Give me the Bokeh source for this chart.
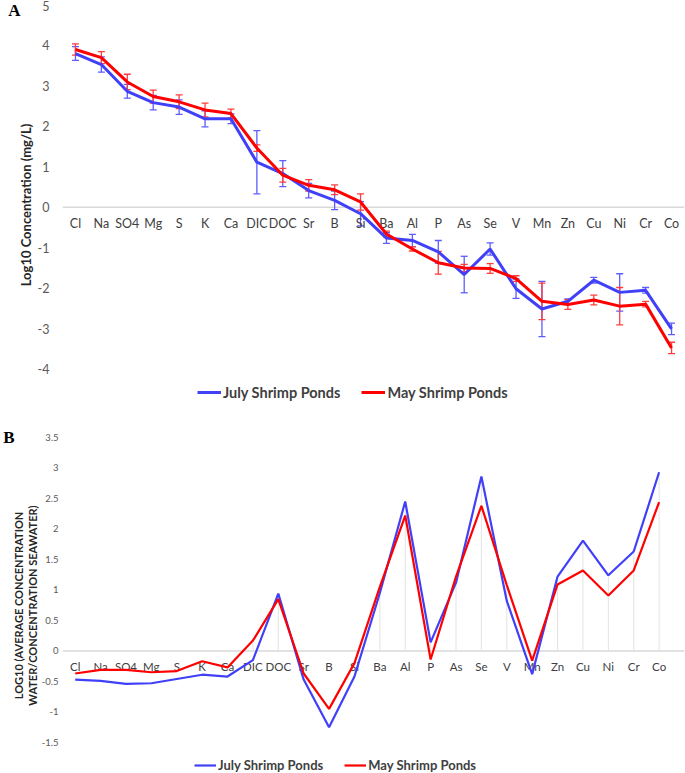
from bokeh.plotting import figure
from bokeh.layouts import column
from bokeh.models import (FactorRange, Range1d, FixedTicker, PrintfTickFormatter, LinearAxis,
                          Whisker, TeeHead, ColumnDataSource, Legend, LegendItem, Span)
from bokeh.core.properties import value
from bokeh.embed import file_html
from bokeh.resources import INLINE

# ---------------- data ----------------
elements = ["Cl", "Na", "SO4", "Mg", "S", "K", "Ca", "DIC", "DOC", "Sr", "B", "Si",
            "Ba", "Al", "P", "As", "Se", "V", "Mn", "Zn", "Cu", "Ni", "Cr", "Co"]

# Panel A: log10 concentration (mg/L)
conc_july = [3.79, 3.52, 2.86, 2.58, 2.47, 2.18, 2.18, 1.11, 0.83, 0.41, 0.17, -0.16,
             -0.76, -0.82, -1.10, -1.66, -1.03, -2.01, -2.51, -2.32, -1.80, -2.10, -2.05, -3.00]
conc_may = [3.89, 3.69, 3.09, 2.73, 2.60, 2.40, 2.31, 1.46, 0.79, 0.54, 0.43, 0.13,
            -0.66, -1.03, -1.37, -1.50, -1.51, -1.76, -2.32, -2.40, -2.29, -2.44, -2.39, -3.47]
err_july = [0.17, 0.19, 0.17, 0.18, 0.18, 0.20, 0.12, 0.78, 0.32, 0.18, 0.23, 0.30,
            0.13, 0.15, 0.28, 0.45, 0.15, 0.24, 0.68, 0.06, 0.07, 0.46, 0.07, 0.14]
err_may = [0.14, 0.15, 0.19, 0.16, 0.17, 0.17, 0.11, 0.08, 0.17, 0.14, 0.12, 0.20,
           0.07, 0.05, 0.28, 0.09, 0.12, 0.07, 0.45, 0.12, 0.12, 0.46, 0.07, 0.14]

# Panel B: log10 (average concentration water / concentration seawater)
ratio_july = [-0.47, -0.49, -0.54, -0.53, -0.46, -0.39, -0.42, -0.15, 0.94, -0.47, -1.25, -0.42,
              0.95, 2.45, 0.14, 1.12, 2.86, 0.82, -0.38, 1.22, 1.81, 1.24, 1.63, 2.93]
ratio_may = [-0.37, -0.31, -0.31, -0.35, -0.33, -0.17, -0.27, 0.17, 0.85, -0.37, -0.95, -0.20,
             1.05, 2.22, -0.14, 1.22, 2.38, 1.08, -0.16, 1.09, 1.32, 0.91, 1.32, 2.44]

top_ticks = [-4, -3, -2, -1, 0, 1, 2, 3, 4, 5]
bottom_ticks = [-1.5, -1, -0.5, 0, 0.5, 1, 1.5, 2, 2.5, 3, 3.5]
series_names = ["July Shrimp Ponds", "May Shrimp Ponds"]
panel_letters = ["A", "B"]

BLUE = "#4040f8"
RED = "#ff0000"
BLUE_ERR = "#5c5cff"
RED_ERR = "#ff3d3d"
FONT = "Lato"
W = 685


def style_common(p, tick_size):
    p.outline_line_color = None
    p.xgrid.grid_line_color = None
    p.ygrid.grid_line_color = None
    p.xaxis.visible = False
    p.yaxis.axis_line_color = None
    p.yaxis.major_tick_line_color = None
    p.yaxis.minor_tick_line_color = None
    p.yaxis.major_tick_out = 0
    p.yaxis.major_tick_in = 0
    p.yaxis.major_label_text_font = FONT
    p.yaxis.major_label_text_font_size = tick_size
    p.yaxis.major_label_text_color = "#595959"
    p.yaxis.formatter = PrintfTickFormatter(format="%g")
    p.yaxis.axis_label_text_font = FONT
    p.yaxis.axis_label_text_font_style = "bold"
    p.yaxis.axis_label_text_color = "#262626"
    p.add_layout(Span(location=0, dimension="width", line_color="#d9d9d9",
                      line_width=1.5, level="underlay"))


def make_legend(r1, r2, gw, size, h, loc, spacing):
    return Legend(items=[LegendItem(label=series_names[0], renderers=[r1]),
                         LegendItem(label=series_names[1], renderers=[r2])],
                  orientation="horizontal", location=loc,
                  label_text_font=FONT, label_text_font_style="bold",
                  label_text_font_size=size, label_text_color="#404040",
                  glyph_width=gw, glyph_height=h, label_height=h, label_standoff=2,
                  spacing=spacing, padding=0, margin=0, border_line_color=None,
                  background_fill_alpha=0)


def letter_axis(p, letter, at, standoff):
    ax = LinearAxis(ticker=FixedTicker(ticks=[at]),
                    formatter=PrintfTickFormatter(format=letter),
                    axis_line_color=None, major_tick_line_color=None,
                    minor_tick_line_color=None, major_tick_out=0, major_tick_in=0,
                    major_label_standoff=standoff, axis_label_standoff=0,
                    major_label_text_font="Liberation Serif",
                    major_label_text_font_style="bold",
                    major_label_text_font_size="17px",
                    major_label_text_color="#000000")
    p.add_layout(ax, "left")


# ---------------- Panel A ----------------
src_a = ColumnDataSource(dict(
    x=elements, july=conc_july, may=conc_may, zero=[0] * len(elements),
    july_lo=[v - e for v, e in zip(conc_july, err_july)],
    july_hi=[v + e for v, e in zip(conc_july, err_july)],
    may_lo=[v - e for v, e in zip(conc_may, err_may)],
    may_hi=[v + e for v, e in zip(conc_may, err_may)],
))

pa = figure(x_range=FactorRange(*elements), y_range=Range1d(-4.89, 5),
            width=W, height=405, output_backend="svg", toolbar_location=None,
            min_border_left=58, min_border_right=1, min_border_top=4, min_border_bottom=0)
style_common(pa, "12.5px")
pa.yaxis.ticker = FixedTicker(ticks=top_ticks)
pa.yaxis.major_label_standoff = 13
pa.yaxis.axis_label = "Log10 Concentration (mg/L)"
pa.yaxis.axis_label_text_font_size = "13px"
pa.yaxis.axis_label_standoff = 1
letter_axis(pa, panel_letters[0], 4.85, -6)

pa.text(x="x", y="zero", text="x", source=src_a, y_offset=9,
        text_font=value(FONT), text_font_size="12.5px", text_color="#404040",
        text_align="center", text_baseline="top")

for lo, hi, col in (("july_lo", "july_hi", BLUE_ERR), ("may_lo", "may_hi", RED_ERR)):
    wk = Whisker(source=src_a, base="x", lower=lo, upper=hi, dimension="height",
                 line_color=col, line_width=1.3,
                 upper_head=TeeHead(size=7, line_color=col, line_width=1.3),
                 lower_head=TeeHead(size=7, line_color=col, line_width=1.3))
    pa.add_layout(wk)

ra1 = pa.line("x", "july", source=src_a, line_color=BLUE, line_width=3, level="overlay")
ra2 = pa.line("x", "may", source=src_a, line_color=RED, line_width=3, level="overlay")

pa.add_layout(make_legend(ra1, ra2, 24, "14.5px", 18, (135, 4), 21))

# ---------------- Panel B ----------------
# panel B category slots (one per element) on a numeric axis, half a slot of space at the right
pos_b = [i + 0.5 for i in range(len(elements))]
src_b = ColumnDataSource(dict(x=pos_b, name=elements, july=ratio_july, may=ratio_may,
                              zero=[0] * len(elements),
                              top=[max(0, a, b) for a, b in zip(ratio_july, ratio_may)]))

pb = figure(x_range=Range1d(0, len(elements) + 0.5), y_range=Range1d(-2.01, 3.5),
            width=W, height=368, output_backend="svg", toolbar_location=None,
            min_border_left=58, min_border_right=1, min_border_top=32, min_border_bottom=0)
style_common(pb, "9.5px")
pb.yaxis.ticker = FixedTicker(ticks=bottom_ticks)
pb.yaxis.major_label_standoff = 4
pb.yaxis.axis_label = "LOG10 (AVERAGE CONCENTRATION\nWATER/CONCENTRATION SEAWATER)"
pb.yaxis.axis_label_text_font_size = "11px"
pb.yaxis.axis_label_text_line_height = 1.05
pb.yaxis.axis_label_standoff = 0
letter_axis(pb, panel_letters[1], 3.5, -5)

pb.segment(x0="x", y0="zero", x1="x", y1="top", source=src_b,
           line_color="#e3e3e3", line_width=1)
pb.text(x="x", y="zero", text="name", source=src_b, y_offset=9,
        text_font=value(FONT), text_font_size="11.5px", text_color="#404040",
        text_align="center", text_baseline="top")

rb1 = pb.line("x", "july", source=src_b, line_color=BLUE, line_width=2.2, level="overlay")
rb2 = pb.line("x", "may", source=src_b, line_color=RED, line_width=2.2, level="overlay")

pb.add_layout(make_legend(rb1, rb2, 22, "13px", 16, (132, 0), 21))

layout = column(pa, pb, spacing=0)
open("out.html", "w").write(file_html(layout, INLINE))
